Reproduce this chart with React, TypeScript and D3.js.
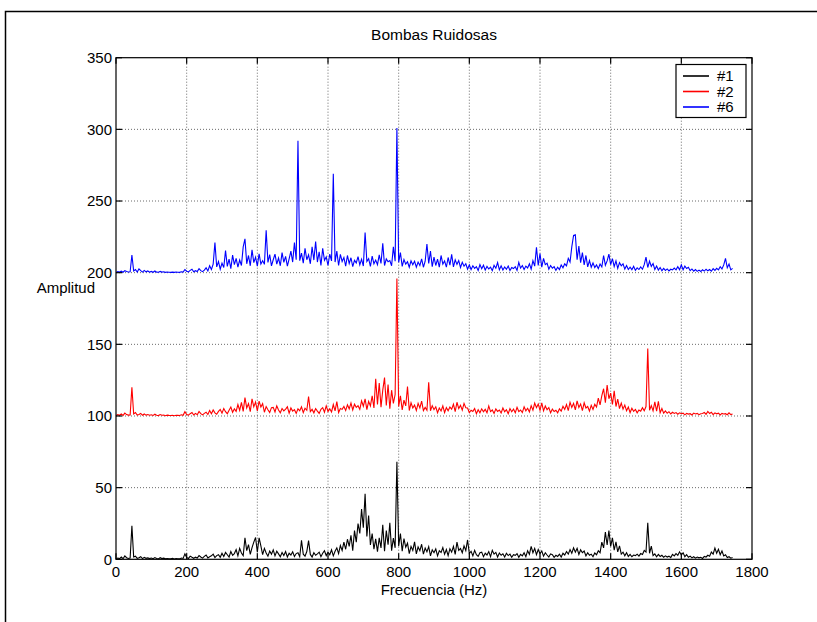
import React from "react";
import * as d3 from "d3";

// Frequency axis sampling (Hz) – spectra sampled every 5 Hz from 0 to 1745 Hz
const STEP_HZ = 5;

// Series names, colours and vertical offsets used in the plot
const seriesNames = ["#1", "#2", "#6"];
const seriesColors = ["#000000", "#ff0000", "#0000ff"];
const seriesOffsets = [0, 100, 200];

// Spectrum magnitude of pump #1
const pump1 = [
  0.3, 0.9, 0.5, 1.6, 0.4, 2.4, 1.1, 0.6, 0.8, 23.4,
  1.6, 2.2, 0.6, 1.1, 1.8, 0.5, 1.4, 0.7, 1.0, 0.5,
  0.9, 0.4, 1.2, 0.6, 0.3, 1.1, 0.5, 0.8, 0.3, 0.6,
  0.4, 0.3, 0.6, 0.2, 0.5, 0.4, 0.3, 0.9, 0.6, 3.8,
  1.2, 0.6, 2.2, 1.4, 0.7, 1.5, 0.9, 2.6, 1.6, 0.8,
  2.1, 3.0, 1.0, 1.8, 2.4, 3.6, 1.2, 2.6, 3.2, 1.4,
  4.2, 2.0, 4.8, 3.2, 1.6, 5.4, 2.8, 4.0, 6.8, 2.4,
  7.6, 4.4, 2.6, 15.0, 6.0, 10.2, 3.4, 8.2, 12.0, 15.2,
  5.0, 15.0, 9.4, 3.2, 7.6, 4.4, 2.2, 5.8, 3.6, 6.6,
  2.4, 5.6, 3.8, 1.8, 4.8, 2.6, 5.4, 1.6, 4.2, 3.0,
  5.2, 2.0, 4.0, 4.6, 1.8, 13.2, 3.6, 2.2, 5.4, 13.0,
  3.4, 1.6, 4.6, 2.8, 3.8, 5.0, 1.8, 4.2, 6.0, 2.6,
  5.0, 3.2, 6.6, 2.4, 5.6, 8.0, 4.0, 9.6, 6.2, 12.0,
  7.0, 14.0, 9.0, 16.8, 6.0, 20.0, 12.0, 25.0, 18.0, 35.0,
  22.0, 45.8, 16.0, 30.5, 10.0, 18.0, 7.0, 14.2, 5.4, 15.0,
  8.0, 24.0, 5.6, 20.0, 10.2, 25.5, 6.0, 14.8, 8.0, 68.0,
  9.2, 18.0, 5.6, 14.5, 8.4, 11.2, 4.0, 9.0, 6.2, 12.2,
  3.8, 8.6, 6.0, 10.5, 3.6, 7.8, 5.2, 8.8, 2.4, 6.6,
  4.6, 7.2, 2.4, 6.0, 4.8, 8.2, 3.5, 6.8, 2.6, 7.4,
  5.0, 9.0, 3.4, 12.0, 6.2, 7.5, 4.6, 9.4, 6.0, 13.5,
  4.0, 5.6, 2.4, 6.2, 3.2, 2.0, 4.6, 5.0, 1.8, 4.2,
  3.0, 5.4, 1.8, 6.2, 3.6, 4.8, 1.6, 4.4, 2.8, 3.8,
  1.6, 4.2, 2.6, 3.6, 1.4, 3.2, 2.8, 4.0, 1.4, 3.4,
  2.4, 4.6, 1.8, 6.0, 3.4, 9.0, 4.6, 7.6, 3.2, 6.8,
  4.0, 5.8, 2.2, 4.6, 3.0, 1.6, 3.8, 3.2, 1.4, 2.8,
  2.0, 3.6, 1.6, 4.2, 3.0, 5.4, 3.6, 6.8, 4.2, 8.0,
  5.0, 7.6, 3.4, 6.6, 4.6, 5.8, 2.4, 4.6, 2.8, 3.6,
  1.8, 4.4, 3.2, 6.0, 4.6, 12.0, 8.0, 19.0, 10.0, 20.0,
  9.0, 15.0, 6.4, 12.2, 5.2, 9.4, 3.6, 5.0, 2.4, 4.6,
  2.0, 3.4, 1.8, 3.0, 2.6, 3.6, 2.2, 4.0, 3.4, 6.2,
  5.0, 25.5, 4.2, 9.2, 2.6, 3.8, 1.8, 3.4, 2.0, 2.8,
  1.4, 2.4, 1.6, 2.2, 1.2, 3.4, 2.4, 4.0, 2.8, 5.2,
  3.0, 4.6, 1.8, 3.2, 1.4, 2.2, 1.0, 1.8, 0.8, 1.6,
  1.0, 1.4, 0.6, 2.0, 1.6, 2.8, 2.2, 5.0, 3.6, 7.8,
  4.2, 7.0, 3.2, 5.8, 2.4, 3.2, 1.2, 1.8, 0.8, 1.2,
];

// Spectrum magnitude of pump #2
const pump2 = [
  0.3, 0.9, 0.5, 1.4, 0.4, 2.0, 1.0, 0.6, 0.7, 20.0,
  1.4, 2.4, 0.6, 1.1, 1.8, 0.5, 1.4, 0.6, 1.0, 0.5,
  0.8, 0.4, 1.2, 0.5, 0.3, 1.0, 0.5, 0.7, 0.2, 0.6,
  0.4, 0.3, 0.5, 0.2, 0.5, 0.4, 0.3, 0.8, 0.5, 3.0,
  1.0, 0.6, 1.6, 2.4, 0.7, 1.8, 0.9, 3.2, 1.6, 0.8,
  1.8, 2.6, 1.0, 3.8, 1.6, 4.2, 2.2, 1.2, 3.2, 4.6,
  2.0, 5.2, 3.0, 1.6, 4.0, 6.2, 2.6, 5.0, 3.2, 8.0,
  4.0, 9.5, 3.2, 12.8, 5.6, 8.6, 3.0, 12.0, 6.4, 9.8,
  3.6, 10.4, 6.2, 8.6, 2.6, 6.6, 4.4, 2.4, 5.8, 6.0,
  2.8, 7.0, 4.2, 2.2, 5.2, 3.6, 4.8, 6.4, 2.0, 5.6,
  3.4, 4.4, 1.8, 5.0, 3.6, 6.4, 2.4, 5.4, 4.0, 13.5,
  3.0, 4.6, 2.2, 5.2, 3.4, 1.8, 4.6, 5.8, 2.6, 7.0,
  3.2, 5.0, 2.8, 8.0, 3.6, 10.0, 2.4, 5.2, 4.6, 6.6,
  3.8, 7.8, 5.0, 9.0, 4.2, 8.2, 6.0, 7.2, 4.6, 10.6,
  6.8, 12.0, 4.4, 10.2, 7.0, 14.0, 5.6, 26.0, 8.0, 23.0,
  6.2, 18.0, 26.8, 7.4, 22.0, 5.0, 18.0, 8.8, 15.0, 96.0,
  6.6, 14.0, 4.2, 11.0, 7.0, 20.5, 3.8, 9.2, 5.6, 7.6,
  3.8, 8.8, 5.6, 10.4, 3.8, 6.0, 4.0, 23.5, 3.6, 7.2,
  4.4, 6.4, 2.3, 5.6, 3.5, 7.0, 2.4, 5.8, 3.6, 6.2,
  4.8, 8.2, 3.0, 9.6, 5.2, 7.4, 4.0, 8.8, 5.8, 5.6,
  2.4, 4.0, 3.2, 5.2, 1.6, 4.4, 2.2, 5.0, 3.0, 4.6,
  2.2, 7.0, 3.1, 4.2, 1.8, 5.0, 3.2, 4.2, 2.1, 5.6,
  3.0, 4.4, 1.6, 5.2, 3.0, 4.8, 2.2, 6.0, 3.1, 4.2,
  2.4, 6.4, 3.6, 5.4, 2.8, 7.2, 4.0, 9.0, 5.8, 8.4,
  4.0, 9.2, 3.6, 7.0, 4.4, 5.8, 2.2, 4.8, 3.1, 4.0,
  2.2, 5.0, 3.4, 6.8, 4.6, 8.0, 3.8, 9.6, 6.0, 8.8,
  4.2, 10.6, 6.0, 8.4, 3.8, 9.2, 5.6, 6.6, 3.4, 7.4,
  4.6, 8.2, 6.2, 12.4, 7.8, 14.2, 19.0, 9.2, 21.6, 12.0,
  16.0, 8.0, 17.5, 6.6, 11.8, 5.2, 9.0, 4.8, 7.6, 3.6,
  6.2, 2.4, 5.4, 3.3, 4.6, 2.2, 4.2, 3.4, 5.8, 3.6,
  6.6, 47.0, 4.0, 7.2, 3.6, 9.8, 3.4, 10.2, 2.2, 5.2,
  2.0, 3.6, 1.9, 3.0, 1.4, 2.6, 1.8, 2.4, 1.2, 2.2,
  1.6, 2.0, 0.8, 1.8, 1.3, 1.6, 0.7, 2.0, 1.4, 1.8,
  0.9, 1.6, 1.7, 2.4, 1.2, 3.2, 1.7, 2.6, 1.0, 2.2,
  1.5, 2.0, 0.7, 1.8, 1.4, 1.6, 0.9, 2.2, 1.0, 1.4,
];

// Spectrum magnitude of pump #6
const pump6 = [
  0.2, 0.7, 0.4, 1.0, 0.3, 1.4, 0.8, 0.5, 0.6, 12.3,
  1.2, 2.2, 0.5, 2.6, 1.4, 0.4, 1.6, 0.6, 1.2, 0.4,
  0.9, 0.3, 1.2, 0.4, 0.3, 0.9, 0.4, 0.6, 0.2, 0.5,
  0.3, 0.2, 0.4, 0.2, 0.5, 0.3, 0.2, 0.6, 0.4, 2.2,
  1.0, 0.5, 1.6, 2.4, 0.6, 1.4, 0.8, 2.8, 1.4, 0.7,
  1.8, 3.4, 1.2, 4.8, 2.2, 6.0, 21.0, 4.0, 7.8, 2.4,
  6.6, 3.6, 15.5, 4.4, 9.4, 2.8, 12.2, 5.6, 10.0, 3.8,
  8.8, 5.0, 18.0, 23.6, 6.2, 12.0, 4.8, 16.0, 7.0, 10.8,
  4.6, 13.2, 6.0, 8.4, 5.8, 29.6, 7.2, 12.6, 4.8, 9.0,
  13.0, 6.0, 10.2, 4.8, 14.0, 7.2, 11.4, 4.6, 9.6, 15.0,
  7.4, 21.0, 9.0, 92.0, 8.4, 13.6, 6.6, 17.0, 9.0, 12.4,
  6.2, 18.0, 8.8, 21.7, 7.4, 14.6, 5.0, 17.0, 8.6, 11.0,
  5.0, 13.0, 8.2, 69.0, 7.4, 15.0, 5.0, 12.8, 7.8, 10.6,
  4.6, 12.0, 6.4, 10.4, 4.2, 8.6, 6.8, 11.2, 5.4, 9.4,
  4.6, 28.0, 7.8, 9.8, 4.4, 11.6, 6.2, 8.8, 5.6, 12.4,
  6.4, 20.5, 5.0, 9.6, 7.6, 8.4, 4.8, 18.0, 8.0, 101.0,
  7.2, 14.0, 4.4, 9.2, 6.0, 7.6, 3.8, 8.2, 5.6, 8.0,
  3.8, 7.4, 5.0, 9.6, 3.8, 8.0, 20.0, 6.4, 15.0, 4.2,
  10.8, 5.0, 9.4, 3.8, 12.0, 6.0, 8.2, 3.8, 10.6, 5.2,
  12.8, 4.0, 9.0, 5.8, 8.4, 3.6, 7.2, 4.5, 6.2, 2.4,
  5.4, 2.2, 4.8, 3.0, 4.2, 1.6, 5.6, 2.8, 5.2, 1.8,
  4.4, 2.6, 3.8, 1.4, 5.2, 3.1, 7.0, 2.0, 4.8, 1.9,
  4.0, 2.4, 4.6, 1.5, 3.6, 2.9, 4.2, 1.6, 7.2, 3.2,
  5.0, 2.2, 4.6, 3.3, 6.2, 2.5, 8.4, 4.6, 17.7, 5.0,
  13.3, 3.8, 10.0, 5.6, 6.6, 2.4, 5.0, 3.2, 4.2, 1.6,
  3.8, 2.2, 5.4, 3.4, 6.2, 4.8, 10.0, 7.4, 18.0, 26.0,
  26.4, 9.0, 18.5, 7.0, 14.0, 5.4, 12.0, 4.0, 8.4, 3.8,
  6.8, 3.6, 5.4, 2.8, 6.0, 4.0, 12.0, 5.2, 8.2, 13.0,
  5.6, 9.8, 4.2, 8.2, 3.0, 7.0, 4.8, 6.2, 2.5, 5.0,
  2.2, 3.8, 2.1, 4.4, 1.6, 3.4, 2.2, 4.0, 2.4, 5.6,
  10.8, 3.6, 8.0, 4.4, 6.4, 2.2, 4.6, 1.8, 3.6, 1.4,
  3.0, 1.6, 2.6, 1.2, 2.4, 1.9, 3.2, 2.0, 4.2, 2.1,
  5.4, 2.0, 4.6, 2.9, 3.8, 1.4, 2.6, 1.1, 2.2, 0.9,
  1.8, 0.8, 2.0, 1.1, 2.4, 1.3, 2.2, 1.0, 2.8, 1.6,
  3.0, 2.0, 4.2, 2.6, 5.4, 10.0, 3.4, 6.0, 2.0, 3.0,
];

const seriesValues = [pump1, pump2, pump6];

// Axis ticks
const xTicks = [0, 200, 400, 600, 800, 1000, 1200, 1400, 1600, 1800];
const yTicks = [0, 50, 100, 150, 200, 250, 300, 350];

const TITLE = "Bombas Ruidosas";
const X_LABEL = "Frecuencia (Hz)";
const Y_LABEL = "Amplitud";

// Layout
const W = 817;
const H = 622;
const PL = 116;
const PR = 752;
const PT = 57.7;
const PB = 559.3;
const FONT = "'Liberation Sans', Arial, Helvetica, sans-serif";

export default function App() {
  const x = d3.scaleLinear().domain([0, 1800]).range([PL, PR]);
  const y = d3.scaleLinear().domain([0, 350]).range([PB, PT]);

  const paths = seriesValues.map((vals, s) => {
    const line = d3
      .line<number>()
      .x((_, i) => x(i * STEP_HZ))
      .y((v) => y(v + seriesOffsets[s]));
    return line(vals) || "";
  });

  const tickLen = 6;

  return (
    <svg
      width={W}
      height={H}
      style={{ position: "absolute", left: 0, top: 0, background: "#fff" }}
      fontFamily={FONT}
    >
      <rect x={0} y={0} width={W} height={H} fill="#fff" />
      {/* figure frame (left and top edges visible) */}
      <path d={`M5.5,${H + 5} V11.5 H${W + 5}`} fill="none" stroke="#000" strokeWidth={1.5} />

      {/* grid */}
      <g stroke="#444" strokeWidth={0.8} strokeDasharray="1,2">
        {xTicks.slice(1, -1).map((t) => (
          <line key={"gx" + t} x1={x(t)} x2={x(t)} y1={PT} y2={PB} />
        ))}
        {yTicks.slice(1, -1).map((t) => (
          <line key={"gy" + t} x1={PL} x2={PR} y1={y(t)} y2={y(t)} />
        ))}
      </g>

      {/* data */}
      {paths.map((d, s) => (
        <path key={s} d={d} fill="none" stroke={seriesColors[s]} strokeWidth={1.1} strokeLinejoin="miter" />
      ))}

      {/* axes box & ticks */}
      <g stroke="#000" strokeWidth={1.2}>
        <rect x={PL} y={PT} width={PR - PL} height={PB - PT} fill="none" />
        {xTicks.map((t) => (
          <g key={"tx" + t}>
            <line x1={x(t)} x2={x(t)} y1={PB} y2={PB - tickLen} />
            <line x1={x(t)} x2={x(t)} y1={PT} y2={PT + tickLen} />
          </g>
        ))}
        {yTicks.map((t) => (
          <g key={"ty" + t}>
            <line x1={PL} x2={PL + tickLen} y1={y(t)} y2={y(t)} />
            <line x1={PR} x2={PR - tickLen} y1={y(t)} y2={y(t)} />
          </g>
        ))}
      </g>

      {/* tick labels */}
      <g fontSize={15} fill="#000">
        {xTicks.map((t) => (
          <text key={"lx" + t} x={x(t)} y={577} textAnchor="middle">
            {t}
          </text>
        ))}
        {yTicks.map((t) => (
          <text key={"ly" + t} x={PL - 4} y={y(t)} dy="0.36em" textAnchor="end">
            {t}
          </text>
        ))}
      </g>

      {/* title and labels */}
      <text x={(PL + PR) / 2} y={40} textAnchor="middle" fontSize={15.5}>
        {TITLE}
      </text>
      <text x={(PL + PR) / 2} y={595} textAnchor="middle" fontSize={15}>
        {X_LABEL}
      </text>
      <text x={95} y={293} textAnchor="end" fontSize={15}>
        {Y_LABEL}
      </text>

      {/* legend */}
      <g>
        <rect x={676} y={64.5} width={70} height={53} fill="#fff" stroke="#000" strokeWidth={1.2} />
        {seriesNames.map((n, s) => {
          const cy = 76 + s * 15.5;
          return (
            <g key={n}>
              <line x1={683} x2={709} y1={cy} y2={cy} stroke={seriesColors[s]} strokeWidth={1.6} />
              <text x={717} y={cy} dy="0.36em" fontSize={15}>
                {n}
              </text>
            </g>
          );
        })}
      </g>
    </svg>
  );
}
